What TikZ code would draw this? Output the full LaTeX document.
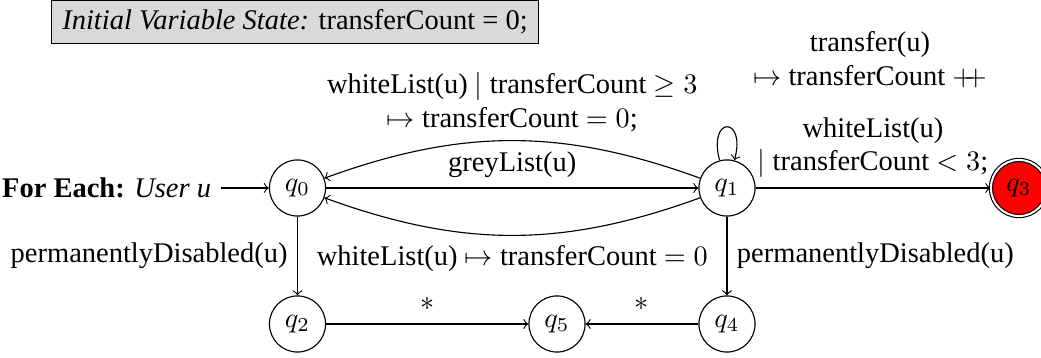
\documentclass[tikz,border=0pt]{standalone}
\usepackage{fontspec}
\setmainfont{Liberation Serif}
\begin{document}
\begin{tikzpicture}[x=0.3546pt,y=-0.3546pt,>=to,line width=0.4pt,
  every node/.style={font=\fontsize{10.1}{12}\selectfont},
  st/.style={circle,draw,minimum size=19.9pt,inner sep=0pt},
  acc/.style={st,fill=red,double,double distance=0.7pt},
  lbl/.style={align=center},
  info/.style={draw,fill=gray!30,inner xsep=3.9pt,inner ysep=3.4pt}]
\useasboundingbox (0,0) rectangle (1041,358);
\node[info] (init) at (295,22) {\textit{Initial Variable State:} transferCount = 0;};
\node[st] (q0) at (297.5,188) {$q_0$};
\node[st] (q1) at (727,188) {$q_1$};
\node[acc] (q3) at (1019,188) {$q_3$};
\node[st] (q2) at (297.5,324) {$q_2$};
\node[st] (q5) at (557,324) {$q_5$};
\node[st] (q4) at (727,324) {$q_4$};
\node[anchor=east] (start) at (221,188) {\textbf{For Each:} \textit{User u}};
\node[lbl] (tl) at (870,60) {transfer(u)\\$\mapsto$ transferCount $+\!\!+$};
\draw[->] (start) -- (q0);
\draw[->] (q0) -- node[above] {greyList(u)} (q1);
\draw[->] (q1) to[bend right=20] node[above,lbl,yshift=-0.5pt] {whiteList(u) $|$ transferCount $\geq 3$\\$\mapsto$ transferCount $=0$;} (q0);
\draw[->] (q1) to[bend left=20] node[below] {whiteList(u) $\mapsto$ transferCount $=0$} (q0);
\draw[->] (q1) to[loop above] (q1);
\draw[->] (q1) -- node[above,lbl] {whiteList(u)\\$|$ transferCount $< 3$;} (q3);
\draw[->] (q0) -- node[left] {permanentlyDisabled(u)} (q2);
\draw[->] (q1) -- node[right] {permanentlyDisabled(u)} (q4);
\draw[->] (q2) -- node[above,yshift=1.3pt] {$*$} (q5);
\draw[->] (q4) -- node[above,yshift=1.3pt] {$*$} (q5);
\end{tikzpicture}
\end{document}
